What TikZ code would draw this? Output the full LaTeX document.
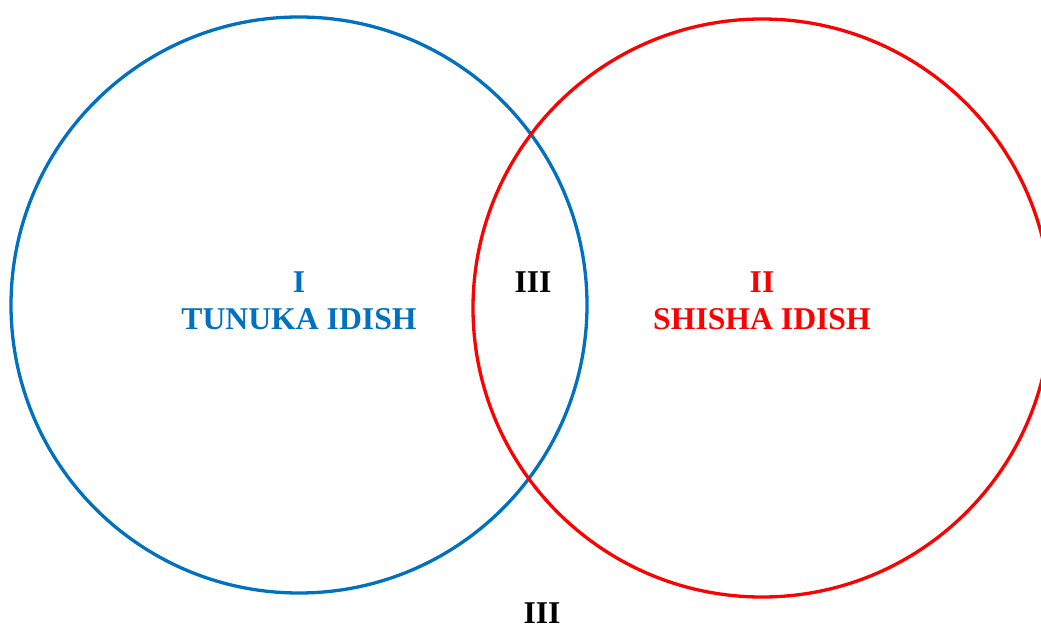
\documentclass[tikz,border=0pt]{standalone}
\usepackage{fontspec}
\setmainfont{Liberation Serif}
\definecolor{cblue}{RGB}{0,112,192}
\definecolor{cred}{RGB}{255,0,0}
\begin{document}
\begin{tikzpicture}[x=1pt,y=-1pt,
  ring/.style={line width=3.3pt},
  lbl/.style={anchor=base,inner sep=0pt,font=\fontsize{31.7}{38}\selectfont\bfseries}]
\useasboundingbox (0,0) rectangle (1041,628);
\draw[ring,cblue] (299,305) circle[radius=288];
\draw[ring,cred] (762,308) circle[radius=289];
\node[lbl,text=cblue] (n1) at (299,292) {I};
\node[lbl,text=cblue] (t1) at (299,329) {TUNUKA IDISH};
\node[lbl,text=cred] (n2) at (762,292) {II};
\node[lbl,text=cred] (t2) at (762,329) {SHISHA IDISH};
\node[lbl] (n3) at (533,293) {III};
\node[lbl] (n4) at (542,623) {III};
\end{tikzpicture}
\end{document}
